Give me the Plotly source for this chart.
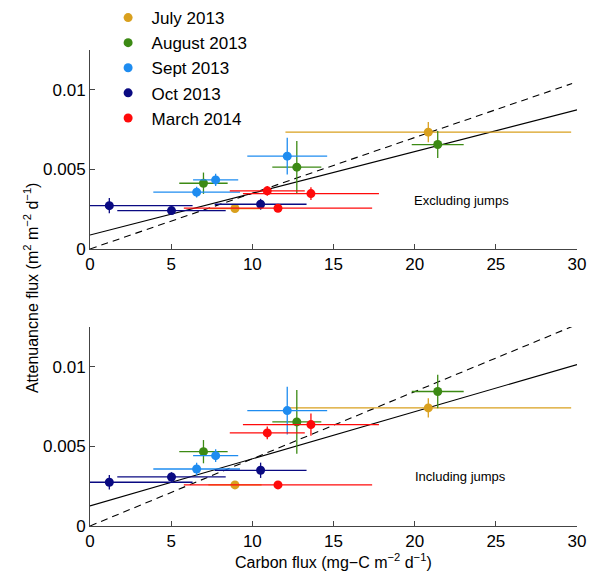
import plotly.graph_objects as go

# ---------------- data ----------------
months = ["July 2013", "August 2013", "Sept 2013", "Oct 2013", "March 2014"]
colors = ["#D9A01E", "#3C8A14", "#1E8CF0", "#0A0A82", "#FF0A0A"]

# carbon flux (x) and its error, same in both panels
carbon = {
    "July 2013":   [8.93, 20.84],
    "August 2013": [6.99, 12.74, 21.42],
    "Sept 2013":   [6.57, 7.74, 12.15],
    "Oct 2013":    [1.19, 5.02, 10.51],
    "March 2014":  [10.92, 11.58, 13.61],
}
carbon_err = {
    "July 2013":   [1.64, 8.8],
    "August 2013": [1.49, 1.51, 1.6],
    "Sept 2013":   [2.67, 1.39, 2.46],
    "Oct 2013":    [5.13, 3.34, 2.83],
    "March 2014":  [2.31, 5.8, 4.19],
}

# attenuance flux, excluding jumps (top panel)
atten_excl = {
    "July 2013":   [0.00254, 0.00734],
    "August 2013": [0.00413, 0.00514, 0.00656],
    "Sept 2013":   [0.00357, 0.00434, 0.00583],
    "Oct 2013":    [0.00272, 0.00241, 0.00281],
    "March 2014":  [0.00365, 0.00256, 0.00348],
}
atten_excl_err = {
    "July 2013":   [0.0001, 0.00063],
    "August 2013": [0.00067, 0.00164, 0.00085],
    "Sept 2013":   [0.00034, 0.00038, 0.00115],
    "Oct 2013":    [0.00048, 0.0001, 0.00034],
    "March 2014":  [0.0003, 0.0001, 0.0004],
}

# attenuance flux, including jumps (bottom panel)
atten_incl = {
    "July 2013":   [0.00258, 0.00742],
    "August 2013": [0.00467, 0.00654, 0.00845],
    "Sept 2013":   [0.00358, 0.00442, 0.00725],
    "Oct 2013":    [0.00275, 0.00308, 0.0035],
    "March 2014":  [0.00585, 0.00258, 0.00637],
}
atten_incl_err = {
    "July 2013":   [0.0001, 0.0006],
    "August 2013": [0.00073, 0.002, 0.00105],
    "Sept 2013":   [0.0004, 0.0004, 0.0015],
    "Oct 2013":    [0.00046, 0.0003, 0.00048],
    "March 2014":  [0.0004, 0.0001, 0.0007],
}

# fit lines: (intercept, slope)
fit_x = [0, 29.7]
fit_excl_solid = (0.00088, 0.000262)
fit_excl_dash = (0.0, 0.00035)
fit_incl_solid = (0.00126, 0.000296)
fit_incl_dash = (0.0, 0.000422)

x_ticks = [0, 5, 10, 15, 20, 25, 30]
y_ticks = [0, 0.005, 0.01]
y_tick_text = ["0", "0.005", "0.01"]

# ---------------- figure ----------------
fig = go.Figure()

def add_fit(fit, dash, xa, ya):
    b, m = fit
    xs = [fit_x[0], 30 if dash == "solid" else fit_x[1]]
    fig.add_trace(go.Scatter(
        x=xs, y=[b + m * v for v in xs], mode="lines",
        line=dict(color="black", width=1.1, dash=dash),
        showlegend=False, hoverinfo="skip", xaxis=xa, yaxis=ya))

add_fit(fit_excl_dash, "7px,5px", "x", "y")
add_fit(fit_excl_solid, "solid", "x", "y")
add_fit(fit_incl_dash, "7px,5px", "x2", "y2")
add_fit(fit_incl_solid, "solid", "x2", "y2")

for m, c in zip(months, colors):
    for ys, es, xa, ya, show in [
        (atten_excl, atten_excl_err, "x", "y", True),
        (atten_incl, atten_incl_err, "x2", "y2", False),
    ]:
        fig.add_trace(go.Scatter(
            x=carbon[m], y=ys[m], mode="markers", name=m,
            marker=dict(color=c, size=9),
            error_x=dict(type="data", array=carbon_err[m], color=c,
                         thickness=1.3, width=0),
            error_y=dict(type="data", array=es[m], color=c,
                         thickness=1.3, width=0),
            showlegend=show, xaxis=xa, yaxis=ya))

axis_common = dict(
    showline=True, linecolor="#444", linewidth=1, mirror=False,
    ticks="inside", ticklen=5, tickcolor="#444", showgrid=False,
    zeroline=False, tickfont=dict(family="Liberation Sans, Arial", size=17, color="black"),
)

fig.update_layout(
    width=598, height=581,
    margin=dict(l=90, r=21, t=50, b=55, autoexpand=False),
    paper_bgcolor="white", plot_bgcolor="white",
    font=dict(family="Liberation Sans, Arial", color="black"),
    xaxis=dict(domain=[0, 1], range=[0, 30], tickvals=x_ticks, anchor="y", **axis_common),
    yaxis=dict(domain=[0.582, 1], range=[0, 0.0125], tickvals=y_ticks,
               ticktext=y_tick_text, anchor="x", **axis_common),
    xaxis2=dict(domain=[0, 1], range=[0, 30], tickvals=x_ticks, anchor="y2", **axis_common),
    yaxis2=dict(domain=[0, 0.418], range=[0, 0.0125], tickvals=y_ticks,
                ticktext=y_tick_text, anchor="x2", **axis_common),
    legend=dict(x=0.03, y=1.105, xanchor="left", yanchor="top", itemwidth=37,
                bgcolor="rgba(0,0,0,0)", font=dict(size=17, color="black")),
    showlegend=True,
)

fig.add_annotation(x=22.9, y=0.00304, xref="x", yref="y", text="Excluding jumps",
                   showarrow=False, font=dict(size=13, color="black"))
fig.add_annotation(x=22.8, y=0.0031, xref="x2", yref="y2", text="Including jumps",
                   showarrow=False, font=dict(size=13, color="black"))
fig.add_annotation(x=-0.121, y=0.5, xref="paper", yref="paper",
                   text="Attenuancne flux (m<sup>2</sup> m<sup>\u22122</sup> d<sup>\u22121</sup>)",
                   textangle=-90, showarrow=False, xanchor="center", yanchor="middle",
                   font=dict(size=16, color="black"))
fig.add_annotation(x=0.5, y=-0.0735, xref="paper", yref="paper",
                   text="Carbon flux (mg\u2212C m<sup>\u22122</sup> d<sup>\u22121</sup>)",
                   showarrow=False, xanchor="center", yanchor="middle",
                   font=dict(size=16, color="black"))

fig.write_html("out.html")
